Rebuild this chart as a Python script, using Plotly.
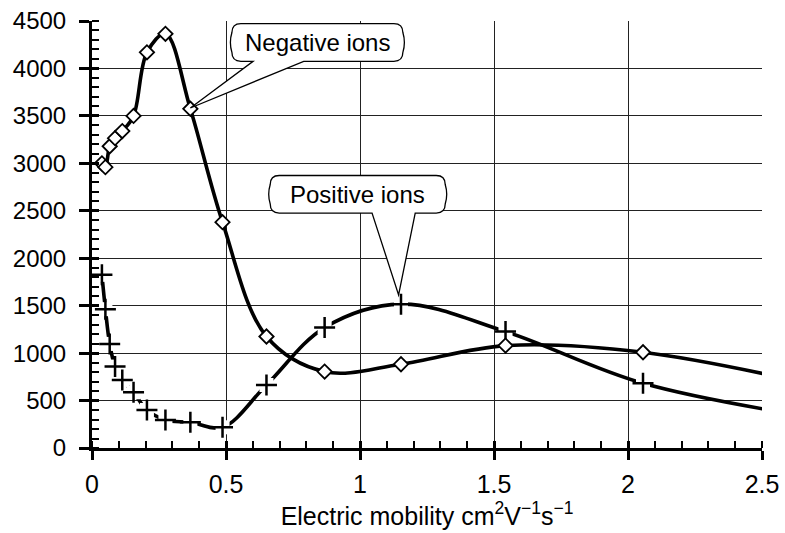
import plotly.graph_objects as go

# ---- data ----
mobility = [0.037, 0.050, 0.066, 0.086, 0.113, 0.155, 0.205, 0.274, 0.367,
            0.487, 0.651, 0.868, 1.153, 1.543, 2.056, 2.74]
negative_ions = [3000, 2960, 3180, 3265, 3340, 3500, 4170, 4365, 3575,
                 2380, 1175, 805, 883, 1079, 1009, 640]
positive_ions = [1825, 1463, 1097, 858, 717, 587, 401, 295, 271,
                 218, 664, 1269, 1516, 1227, 682, 300]

x_ticks = [0, 0.5, 1, 1.5, 2, 2.5]
x_tick_labels = ["0", "0.5", "1", "1.5", "2", "2.5"]
y_ticks = list(range(0, 4501, 500))

x_title = "Electric mobility cm<sup>2</sup>V<sup>\u22121</sup>s<sup>\u22121</sup>"

# callouts: (text, box x0, box x1, box y0, box y1, tail base x0, tail base x1, tip x, tip y)
callouts = [
    ("Negative ions", 0.522, 1.160, 4075, 4473, 0.601, 0.790, 0.367, 3583),
    ("Positive ions", 0.665, 1.318, 2476, 2872, 1.045, 1.206, 1.144, 1614),
]

# ---- layout constants ----
W, H = 785, 533
ML, MR, MT, MB = 92, 23, 21, 85
XR = (0, 2.5)
YR = (0, 4500)
px_per_x = (W - ML - MR) / (XR[1] - XR[0])
px_per_y = (H - MT - MB) / (YR[1] - YR[0])

FONT = "Arial, Liberation Sans, sans-serif"

fig = go.Figure()

# negative ions line
fig.add_trace(go.Scatter(
    x=mobility, y=negative_ions, mode="lines",
    line=dict(color="black", width=3.6, shape="spline", smoothing=1.0),
    showlegend=False, hoverinfo="skip"))

# positive ions line
fig.add_trace(go.Scatter(
    x=mobility, y=positive_ions, mode="lines",
    line=dict(color="black", width=3.6, shape="spline", smoothing=1.0),
    showlegend=False, hoverinfo="skip"))

# white background squares of the plus markers (interrupt the line)
fig.add_trace(go.Scatter(
    x=mobility, y=positive_ions, mode="markers",
    marker=dict(symbol="square", size=14, color="white", line=dict(width=0)),
    showlegend=False, hoverinfo="skip"))

# plus markers
fig.add_trace(go.Scatter(
    x=mobility, y=positive_ions, mode="markers",
    marker=dict(symbol="cross-thin", size=15, color="black",
                line=dict(width=2.5, color="black")),
    showlegend=False, name="Positive ions"))

# diamond markers
fig.add_trace(go.Scatter(
    x=mobility, y=negative_ions, mode="markers",
    marker=dict(symbol="diamond", size=11, color="white",
                line=dict(width=1.8, color="black")),
    showlegend=False, name="Negative ions"))

# invisible trace on overlay axes, used to draw the inner half of the major ticks
fig.add_trace(go.Scatter(
    x=[XR[0]], y=[YR[0]], xaxis="x2", yaxis="y2", mode="markers",
    marker=dict(size=1, opacity=0), showlegend=False, hoverinfo="skip"))


def callout_path(bx0, bx1, by0, by1, tx0, tx1, tipx, tipy, r=9, bulge=3):
    rx = r / px_per_x
    ry = r / px_per_y
    bxx = bulge / px_per_x
    ym = (by0 + by1) / 2
    p = []
    p.append(f"M {bx0 + rx},{by1}")
    p.append(f"L {bx1 - rx},{by1}")
    p.append(f"Q {bx1},{by1} {bx1},{by1 - ry}")
    p.append(f"Q {bx1 + bxx},{ym} {bx1},{by0 + ry}")
    p.append(f"Q {bx1},{by0} {bx1 - rx},{by0}")
    p.append(f"L {tx1},{by0}")
    p.append(f"L {tipx},{tipy}")
    p.append(f"L {tx0},{by0}")
    p.append(f"L {bx0 + rx},{by0}")
    p.append(f"Q {bx0},{by0} {bx0},{by0 + ry}")
    p.append(f"Q {bx0 - bxx},{ym} {bx0},{by1 - ry}")
    p.append(f"Q {bx0},{by1} {bx0 + rx},{by1}")
    p.append("Z")
    return " ".join(p)


for (txt, bx0, bx1, by0, by1, tx0, tx1, tipx, tipy) in callouts:
    fig.add_shape(type="path", xref="x", yref="y",
                  path=callout_path(bx0, bx1, by0, by1, tx0, tx1, tipx, tipy),
                  line=dict(color="black", width=1.3), fillcolor="white",
                  layer="above")
    fig.add_annotation(x=(bx0 + bx1) / 2, y=(by0 + by1) / 2, xref="x", yref="y",
                       text=txt, showarrow=False,
                       font=dict(family=FONT, size=24, color="black"))

fig.update_layout(
    xaxis=dict(
        range=list(XR), tickvals=x_ticks, ticktext=x_tick_labels,
        showline=True, linecolor="black", linewidth=3,
        ticks="outside", ticklen=9, tickwidth=2.5, tickcolor="black",
        ticklabelstandoff=3, automargin=False,
        minor=dict(dtick=0.1, ticks="inside", ticklen=7, tickwidth=2,
                   tickcolor="black", showgrid=False),
        showgrid=True, gridcolor="#222222", gridwidth=1,
        zeroline=False,
        tickfont=dict(family=FONT, size=25, color="black"),
        title=dict(text=x_title, font=dict(family=FONT, size=25, color="black"),
                   standoff=3),
    ),
    yaxis=dict(
        range=list(YR), tickvals=y_ticks,
        showline=True, linecolor="black", linewidth=3,
        ticks="outside", ticklen=10, tickwidth=2.5, tickcolor="black",
        ticklabelstandoff=8, automargin=False,
        minor=dict(dtick=100, ticks="inside", ticklen=7, tickwidth=2,
                   tickcolor="black", showgrid=False),
        showgrid=True, gridcolor="#222222", gridwidth=1,
        zeroline=False,
        tickfont=dict(family=FONT, size=24, color="black"),
    ),
    xaxis2=dict(
        range=list(XR), overlaying="x", side="bottom", tickvals=x_ticks,
        ticks="inside", ticklen=7, tickwidth=2.5, tickcolor="black",
        showticklabels=False, showgrid=False, showline=False, zeroline=False,
        automargin=False,
    ),
    yaxis2=dict(
        range=list(YR), overlaying="y", side="left", tickvals=y_ticks,
        ticks="inside", ticklen=7, tickwidth=2.5, tickcolor="black",
        showticklabels=False, showgrid=False, showline=False, zeroline=False,
        automargin=False,
    ),
    width=W, height=H,
    margin=dict(l=ML, r=MR, t=MT, b=MB),
    paper_bgcolor="white", plot_bgcolor="white",
    showlegend=False,
)

fig.write_html("out.html")
